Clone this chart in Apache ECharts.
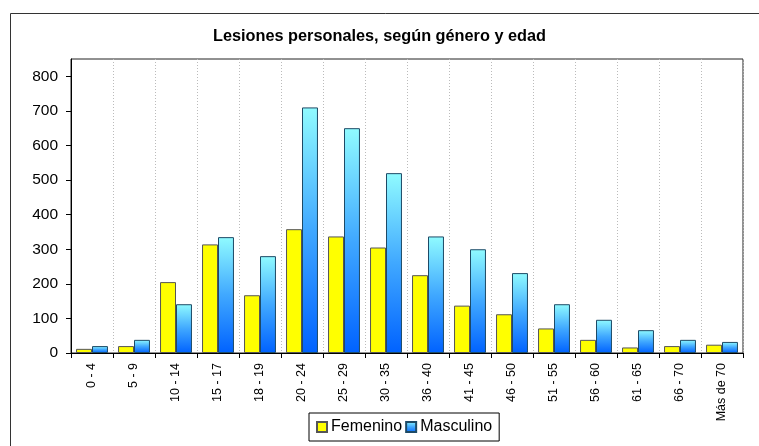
<!DOCTYPE html>
<html>
<head>
<meta charset="utf-8">
<script src="https://cdn.jsdelivr.net/npm/echarts@6/dist/echarts.min.js"></script>
<style>
  html, body { margin: 0; padding: 0; background: #fff; }
  #chart { width: 759px; height: 446px; }
</style>
</head>
<body>
<div id="chart"></div>
<script>
// datos
const edades = ["0 - 4", "5 - 9", "10 - 14", "15 - 17", "18 - 19", "20 - 24", "25 - 29", "30 - 35",
  "36 - 40", "41 - 45", "46 - 50", "51 - 55", "56 - 60", "61 - 65", "66 - 70", "Más de 70"];
const femenino = [12, 20, 205, 314, 167, 358, 337, 305, 225, 137, 112, 71, 38, 16, 20, 24];
const masculino = [20, 38, 141, 335, 280, 710, 650, 520, 337, 300, 231, 141, 96, 66, 38, 32];
const yTicks = [0, 100, 200, 300, 400, 500, 600, 700, 800];

const fontFam = "Liberation Sans, Arial, sans-serif";
const myChart = echarts.init(document.getElementById("chart"));
const option = {
  animation: false,
  backgroundColor: "#fff",
  graphic: [
    {
      type: "rect",
      shape: { x: 10.5, y: 13.5, width: 760, height: 450 },
      style: { fill: "none", stroke: "#333", lineWidth: 1 },
      silent: true,
    },
  ],
  title: {
    text: "Lesiones personales, según género y edad",
    left: "center",
    top: 24,
    textStyle: { fontFamily: fontFam, fontSize: 16.3, fontWeight: "bold", color: "#000" },
  },
  legend: {
    data: ["Femenino", "Masculino"],
    bottom: 5,
    left: 309,
    icon: "rect",
    itemWidth: 10,
    itemHeight: 10,
    itemGap: 3,
    padding: [6, 7, 6, 7],
    borderColor: "#000",
    borderWidth: 1,
    textStyle: { fontFamily: fontFam, fontSize: 16, color: "#000", padding: [0, 0, 0, -1] },
  },
  grid: {
    left: 71,
    top: 59,
    right: 16,
    bottom: 93,
    show: true,
    borderColor: "#222",
    borderWidth: 1,
  },
  xAxis: {
    type: "category",
    data: edades,
    axisLine: { lineStyle: { color: "#000" } },
    axisTick: { show: true, length: 5, lineStyle: { color: "#000" } },
    axisLabel: {
      rotate: 90,
      interval: 0,
      margin: 10,
      fontFamily: fontFam,
      fontSize: 12.5,
      color: "#000",
    },
    splitLine: { show: true, lineStyle: { color: "#bbb", type: [1, 2] } },
  },
  yAxis: {
    type: "value",
    min: 0,
    max: 850,
    interval: 100,
    axisLine: { show: true, lineStyle: { color: "#000" } },
    axisTick: { show: true, length: 5, lineStyle: { color: "#000" } },
    axisLabel: {
      fontFamily: fontFam,
      fontSize: 15.5,
      color: "#000",
      margin: 13,
      showMaxLabel: false,
      formatter: (v) => (yTicks.indexOf(v) >= 0 ? String(v) : ""),
    },
    splitLine: { show: false },
  },
  series: [
    {
      name: "Femenino",
      type: "bar",
      data: femenino,
      barGap: "0%",
      barCategoryGap: "24%",
      itemStyle: { color: "#ffff00", borderColor: "#555", borderWidth: 1 },
    },
    {
      name: "Masculino",
      type: "bar",
      data: masculino,
      itemStyle: {
        color: new echarts.graphic.LinearGradient(0, 0, 0, 1, [
          { offset: 0, color: "#90fbff" },
          { offset: 0.5, color: "#40a8ff" },
          { offset: 1, color: "#0062ff" },
        ]),
        borderColor: "#1d4a66",
        borderWidth: 1,
      },
    },
  ],
};
myChart.setOption(option);
</script>
</body>
</html>
